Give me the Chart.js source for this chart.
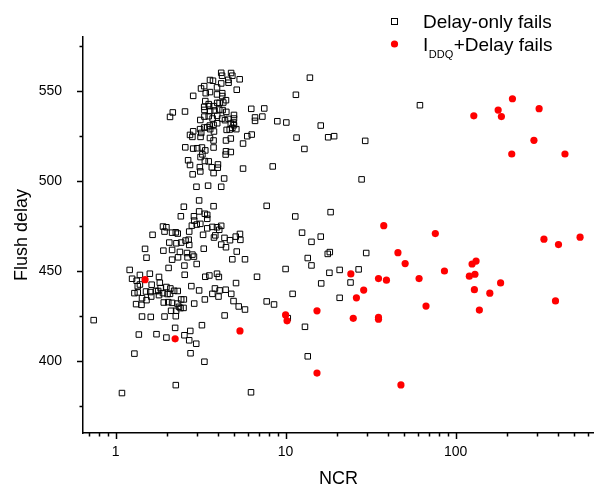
<!DOCTYPE html>
<html>
<head>
<meta charset="utf-8">
<script src="https://cdn.jsdelivr.net/npm/chart.js@4.4.1/dist/chart.umd.min.js"></script>
<style>
  html, body { margin: 0; padding: 0; background: #fff; overflow: hidden; }
  #wrap { position: relative; width: 594px; height: 491px; }
</style>
</head>
<body>
<div id="wrap"><canvas id="chart" width="594" height="491"></canvas></div>
<script>
// Delay-only fails (open squares)
const delayOnlyNcr = [
  4.18, 4.23, 4.78, 4.86, 5.37, 3.59, 3.74, 4.60, 4.62, 4.18, 5.16, 3.18, 3.32, 3.39, 3.59, 3.95,
  3.95, 4.24, 4.24, 2.86, 4.46, 3.37, 3.53, 3.96, 4.09, 4.30, 3.32, 3.55, 3.77, 3.33, 3.60, 3.82,
  4.07, 4.26, 4.48, 2.17, 2.09, 2.56, 6.28, 7.49, 4.97, 4.97, 6.61, 7.30, 6.61, 8.94, 10.1, 16.1,
  3.15, 3.33, 3.53, 3.72, 3.96, 4.23, 4.40, 4.62, 3.58, 3.77, 3.96, 4.76, 4.94, 4.97, 4.86, 5.13,
  3.46, 3.14, 3.32, 3.60, 3.79, 2.86, 3.19, 4.50, 4.69, 2.74, 2.83, 3.16, 3.59, 3.77, 4.46, 4.76,
  5.95, 6.32, 5.62, 11.6, 17.8, 19.3, 12.9, 2.57, 2.86, 3.02, 3.22, 3.37, 3.77, 4.46, 4.76, 4.44,
  3.24, 3.16, 2.67, 2.74, 3.35, 3.53, 3.13, 3.15, 3.68, 4.00, 3.99, 3.77, 2.84, 5.62, 8.40, 4.35,
  2.99, 3.50, 4.18, 3.10, 2.52, 3.77, 7.74, 11.4, 18.4, 11.5, 61.7, 29.4, 28.0, 29.8, 18.2, 13.9,
  2.42, 2.89, 3.10, 3.35, 3.46, 3.46, 2.90, 2.81, 3.00, 3.15, 3.46, 3.71, 3.95, 4.18, 4.07, 3.86,
  3.79, 1.90, 1.99, 1.65, 1.94, 2.15, 2.26, 2.32, 2.71, 3.27, 12.5, 16.1, 14.2, 17.7, 13.5, 18.1,
  14.2, 16.2, 10.0, 20.8, 20.8, 11.0, 7.74, 8.55, 6.79, 5.77, 4.86, 5.16, 4.37, 4.71, 5.09, 5.39,
  5.42, 4.18, 4.46, 3.30, 2.07, 2.28, 2.43, 2.58, 2.69, 2.71, 2.15, 2.39, 2.33, 1.91, 1.49, 1.52,
  2.63, 2.83, 2.65, 2.89, 2.15, 2.54, 3.00, 2.05, 2.55, 1.21, 1.39, 1.59, 1.80, 1.25, 1.33, 1.39,
  1.35, 1.82, 1.63, 1.29, 1.35, 1.51, 1.60, 1.73, 1.78, 1.84, 1.99, 2.10, 2.21, 2.32, 2.09, 1.90,
  1.62, 1.80, 2.02, 1.52, 1.43, 1.32, 1.42, 1.92, 2.04, 2.15, 2.31, 2.43, 2.52, 2.36, 2.12, 2.27,
  2.41, 2.26, 2.51, 3.37, 3.56, 3.95, 4.05, 3.10, 3.35, 3.84, 4.09, 3.71, 4.03, 4.44, 4.79, 4.94,
  5.30, 5.77, 5.11, 2.79, 2.90, 4.38, 1.43, 1.61, 1.94, 1.37, 1.74, 1.99, 2.24, 2.54, 2.75, 2.71,
  2.98, 3.22, 1.29, 2.76, 3.33, 2.26, 1.09, 0.743, 6.26, 13.0, 13.5, 10.3, 26.9, 24.1
];
const delayOnlyDelay = [
  560.1, 558.5, 560.0, 558.5, 556.5, 556.1, 555.7, 556.2, 554.6, 554.2, 550.7, 551.4, 552.7, 548.8, 549.4, 552.0,
  548.1, 548.8, 547.2, 547.3, 544.9, 544.4, 542.7, 543.4, 543.4, 543.6, 541.2, 541.6, 541.6, 539.5, 538.8, 539.2,
  539.7, 539.4, 538.4, 538.1, 535.6, 538.6, 540.1, 540.3, 536.7, 534.7, 535.3, 535.8, 533.4, 533.2, 532.5, 530.8,
  533.9, 535.8, 536.0, 534.7, 536.2, 534.7, 533.8, 534.5, 530.8, 531.2, 532.1, 531.9, 532.5, 531.0, 529.5, 528.8,
  529.9, 528.8, 529.7, 528.8, 527.5, 527.6, 526.7, 528.4, 528.6, 525.6, 524.5, 524.5, 523.9, 522.5, 522.5, 523.6,
  524.9, 525.8, 520.8, 524.1, 524.3, 524.9, 517.8, 518.7, 518.0, 518.2, 518.6, 517.0, 518.6, 516.5, 516.1, 514.7,
  514.8, 513.3, 511.5, 508.9, 511.1, 510.9, 507.7, 505.3, 507.6, 509.2, 507.4, 504.4, 503.7, 506.9, 508.1, 501.4,
  496.8, 497.4, 496.8, 489.2, 485.7, 486.0, 486.2, 480.3, 482.7, 547.9, 542.1, 522.3, 500.9, 460.0, 460.5, 557.4,
  480.4, 480.4, 483.1, 481.8, 481.2, 479.0, 478.0, 475.2, 475.8, 476.2, 473.7, 474.5, 474.3, 475.1, 472.9, 469.8,
  468.6, 474.7, 474.3, 470.1, 471.9, 471.3, 471.5, 470.8, 471.9, 470.1, 471.3, 469.1, 466.2, 459.5, 457.2, 449.0,
  453.1, 443.1, 451.1, 450.6, 435.1, 437.3, 433.1, 431.4, 446.8, 456.5, 456.5, 460.8, 468.4, 467.1, 469.1, 470.6,
  467.3, 464.7, 463.2, 462.4, 465.8, 465.4, 465.8, 466.9, 467.4, 464.5, 461.7, 460.6, 457.6, 461.3, 462.3, 457.4,
  460.0, 459.1, 457.6, 458.0, 456.3, 453.0, 453.9, 451.7, 447.9, 450.6, 447.8, 448.5, 446.7, 445.7, 444.6, 442.5,
  441.6, 443.5, 442.4, 437.7, 438.1, 438.6, 438.3, 438.9, 438.9, 440.5, 441.1, 440.3, 439.0, 438.9, 437.3, 437.7,
  435.8, 436.6, 437.2, 433.8, 434.9, 431.6, 431.2, 432.5, 432.7, 432.3, 431.9, 434.2, 434.2, 430.1, 427.9, 427.9,
  429.4, 424.9, 429.5, 446.8, 447.5, 448.5, 446.7, 439.2, 434.2, 440.3, 439.2, 437.3, 435.8, 439.6, 437.3, 433.3,
  430.3, 428.6, 443.3, 441.6, 431.9, 425.3, 424.7, 424.5, 424.7, 414.7, 414.9, 413.0, 418.4, 414.3, 416.7, 411.5,
  409.6, 419.9, 404.1, 404.3, 399.6, 386.6, 382.2, 422.7, 382.6, 419.0, 402.6, 423.8, 450.9, 443.6
];

// IDDQ + Delay fails (red dots)
const iddqNcr = [
  1.49, 2.24, 5.39, 10.0, 10.2, 15.3, 15.3, 216, 178, 128, 186, 310, 289, 214, 440,
  37.8, 76, 331, 403, 540, 45.8, 50.5, 24.2, 35.2, 39.2, 61, 86, 125, 132, 120.5,
  130, 184, 28.8, 26.1, 129, 159, 67, 138, 387, 25.0, 35.2, 35.2, 47.7
];
const iddqDelay = [
  445.2, 412.3, 416.7, 425.6, 422.3, 427.9, 393.3, 545.7, 539.4, 536.2, 535.8, 540.2, 522.6, 515.0, 515.0,
  475.2, 470.8, 467.7, 464.7, 468.8, 460.2, 454.1, 448.4, 445.8, 444.9, 445.8, 450.0, 453.9, 455.5, 447.1,
  448.2, 443.4, 439.4, 435.1, 439.6, 437.7, 430.5, 428.3, 433.4, 423.7, 424.2, 423.2, 386.7
];

const xMajorTicks = [1, 10, 100];
const yTicks = [400, 450, 500, 550];
const xRange = [0.643, 652];
const yRange = [360, 580];
const legendLabels = ["Delay-only fails", "+Delay fails"];
const legendSub = ["I", "DDQ"];

const FONT = '"Liberation Sans", Arial, sans-serif';
Chart.defaults.font.family = FONT;
Chart.defaults.color = "#000";

const toPoints = (xs, ys) => xs.map((x, i) => ({ x: x, y: ys[i] }));

// minor log ticks 2..9 in each decade, majors at powers of ten
const logTicks = [];
for (let e = -1; e <= 2; e++) {
  for (let m = 1; m <= 9; m++) {
    const v = +(m * Math.pow(10, e)).toPrecision(3);
    if (v >= xRange[0] && v <= xRange[1]) logTicks.push(v);
  }
}
const linTicks = [];
for (let v = 375; v < yRange[1]; v += 25) linTicks.push(v);

const decor = {
  id: "decor",
  afterDraw(chart) {
    const { ctx, chartArea: a, scales: { x, y } } = chart;
    ctx.save();
    ctx.strokeStyle = "#000";
    ctx.lineWidth = 1.5;
    ctx.beginPath();
    x.ticks.forEach(t => {
      const px = Math.round(x.getPixelForValue(t.value)) + 0.5;
      const len = xMajorTicks.includes(t.value) ? 6 : 3.5;
      ctx.moveTo(px, a.bottom);
      ctx.lineTo(px, a.bottom + len);
    });
    y.ticks.forEach(t => {
      const py = Math.round(y.getPixelForValue(t.value)) + 0.5;
      const len = yTicks.includes(t.value) ? 6 : 3.5;
      ctx.moveTo(a.left, py);
      ctx.lineTo(a.left - len, py);
    });
    ctx.stroke();

    // legend
    ctx.lineWidth = 1;
    ctx.strokeRect(391.5, 18.5, 6, 6);
    ctx.fillStyle = "#ff0000";
    ctx.beginPath();
    ctx.arc(394.5, 44, 3.6, 0, Math.PI * 2);
    ctx.fill();

    ctx.fillStyle = "#000";
    ctx.textBaseline = "alphabetic";
    ctx.textAlign = "left";
    ctx.font = "19px " + FONT;
    ctx.fillText(legendLabels[0], 423, 28);
    let tx = 423;
    ctx.fillText(legendSub[0], tx, 50.5);
    tx += ctx.measureText(legendSub[0]).width + 0.5;
    ctx.font = "11px " + FONT;
    ctx.fillText(legendSub[1], tx, 57.5);
    tx += ctx.measureText(legendSub[1]).width + 0.5;
    ctx.font = "19px " + FONT;
    ctx.fillText(legendLabels[1], tx, 50.5);
    ctx.restore();
  }
};

new Chart(document.getElementById("chart"), {
  type: "scatter",
  data: {
    datasets: [
      {
        label: "IDDQ+Delay fails",
        data: toPoints(iddqNcr, iddqDelay),
        pointStyle: "circle",
        pointRadius: 3.6,
        backgroundColor: "#ff0000",
        borderColor: "#ff0000",
        borderWidth: 0
      },
      {
        label: "Delay-only fails",
        data: toPoints(delayOnlyNcr, delayOnlyDelay),
        pointStyle: "rect",
        pointRadius: 3.9,
        backgroundColor: "rgba(0,0,0,0)",
        borderColor: "#000",
        borderWidth: 1
      }
    ]
  },
  options: {
    responsive: false,
    animation: false,
    events: [],
    layout: { autoPadding: false, padding: { top: 37, right: 0, bottom: 0, left: 0 } },
    plugins: { legend: { display: false }, tooltip: { enabled: false } },
    scales: {
      x: {
        type: "logarithmic",
        min: xRange[0],
        max: xRange[1],
        afterBuildTicks: s => {
          s.ticks = logTicks.map(v => ({ value: v, major: xMajorTicks.includes(v) }));
          s.min = xRange[0];
          s.max = xRange[1];
        },
        afterFit: s => { s.height = 58; s.paddingLeft = 0; s.paddingRight = 0; },
        grid: { display: true, drawOnChartArea: false, drawTicks: true, tickLength: 5, color: "rgba(0,0,0,0)" },
        border: { display: true, color: "#000", width: 1.5 },
        ticks: {
          autoSkip: false,
          maxRotation: 0,
          padding: 6,
          font: { size: 14 },
          color: "#000",
          callback: v => xMajorTicks.includes(v) ? String(v) : ""
        },
        title: { display: true, text: "NCR", font: { size: 18 }, color: "#000", padding: { top: 0, bottom: 1 } }
      },
      y: {
        min: yRange[0],
        max: yRange[1],
        afterBuildTicks: s => {
          s.ticks = linTicks.map(v => ({ value: v }));
          s.min = yRange[0];
          s.max = yRange[1];
        },
        afterFit: s => { s.width = 83; s.paddingTop = 0; s.paddingBottom = 0; },
        grid: { display: true, drawOnChartArea: false, drawTicks: true, tickLength: 5, color: "rgba(0,0,0,0)" },
        border: { display: true, color: "#000", width: 1.5 },
        ticks: {
          padding: 16,
          font: { size: 14 },
          color: "#000",
          callback: v => yTicks.includes(v) ? String(v) : ""
        },
        title: { display: true, text: "Flush delay", font: { size: 18 }, color: "#000", padding: { top: 11, bottom: 0 } }
      }
    }
  },
  plugins: [decor]
});
</script>
</body>
</html>
